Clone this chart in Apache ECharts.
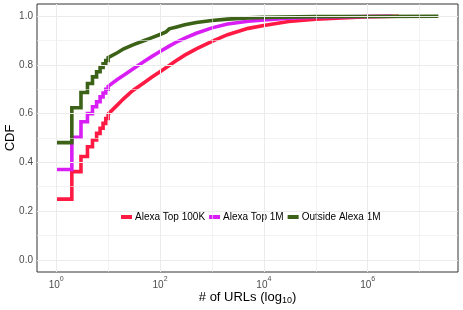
<!DOCTYPE html>
<html>
<head>
<meta charset="utf-8">
<script src="https://cdn.jsdelivr.net/npm/echarts@6/dist/echarts.min.js"></script>
<style>html,body{margin:0;padding:0;background:#fff}#c{width:463px;height:310px}</style>
</head>
<body>
<div id="c"></div>
<script>
// ---- data (counts in raw units, CDF values) ----
const seriesNames = ['Alexa Top 100K', 'Alexa Top 1M', 'Outside Alexa 1M'];
const stepCounts = [1, 2, 3, 4, 5, 6, 7, 8, 9, 10];
const top100kStep = [0.249, 0.362, 0.424, 0.464, 0.492, 0.519, 0.540, 0.560, 0.580, 0.598];
const top1mStep = [0.371, 0.503, 0.567, 0.600, 0.628, 0.649, 0.669, 0.685, 0.700, 0.712];
const outsideStep = [0.481, 0.624, 0.687, 0.724, 0.751, 0.772, 0.790, 0.805, 0.818, 0.830];

const top100kTailCounts = [15, 20, 30, 50, 70, 100, 150, 200, 300, 500, 1000, 2000, 5000, 10000, 30000, 100000, 1000000, 4000000];
const top100kTail = [0.635, 0.662, 0.695, 0.728, 0.750, 0.772, 0.798, 0.816, 0.840, 0.866, 0.897, 0.924, 0.950, 0.962, 0.978, 0.988, 0.998, 1.0];
const top1mTailCounts = [15, 20, 30, 50, 70, 100, 150, 200, 300, 500, 1000, 2000, 5000, 10000, 30000, 100000, 1000000, 3000000];
const top1mTail = [0.740, 0.758, 0.783, 0.815, 0.835, 0.855, 0.877, 0.892, 0.910, 0.930, 0.952, 0.968, 0.979, 0.985, 0.992, 0.996, 0.999, 1.0];
const outsideTailCounts = [15, 20, 30, 50, 70, 100, 130, 150, 200, 300, 500, 1000, 2000, 5000, 10000, 100000, 1000000, 23000000];
const outsideTail = [0.850, 0.866, 0.882, 0.900, 0.912, 0.925, 0.935, 0.948, 0.955, 0.965, 0.974, 0.982, 0.988, 0.993, 0.995, 0.998, 0.999, 1.0];

const xTickExps = [0, 2, 4, 6];
const xGridExps = [0, 1, 2, 3, 4, 5, 6, 7];
const yTicks = [0.0, 0.2, 0.4, 0.6, 0.8, 1.0];
const yGrid = [0.0, 0.1, 0.2, 0.3, 0.4, 0.5, 0.6, 0.7, 0.8, 0.9, 1.0];

const colors = ['#ff1a44', '#d91ef5', '#3b6216'];

function buildCdf(sc, sv, tc, tv) {
  const pts = [];
  for (let i = 0; i < sc.length; i++) {
    const lx = Math.log10(sc[i]);
    if (i > 0) pts.push([lx, sv[i - 1]]);
    pts.push([lx, sv[i]]);
  }
  for (let i = 0; i < tc.length; i++) pts.push([Math.log10(tc[i]), tv[i]]);
  return pts;
}
const cdfData = [
  buildCdf(stepCounts, top100kStep, top100kTailCounts, top100kTail),
  buildCdf(stepCounts, top1mStep, top1mTailCounts, top1mTail),
  buildCdf(stepCounts, outsideStep, outsideTailCounts, outsideTail)
];

const FONT = 'Liberation Sans, Arial, sans-serif';
const chart = echarts.init(document.getElementById('c'), null, {renderer: 'canvas'});

const gridMarks = [];
xGridExps.forEach(v => gridMarks.push({xAxis: v, lineStyle: {color: '#ebebeb', width: v % 2 === 0 ? 1 : 0.6, type: 'solid'}}));
yGrid.forEach((v, i) => gridMarks.push({yAxis: v, lineStyle: {color: '#ebebeb', width: i % 2 === 0 ? 1 : 0.6, type: 'solid'}}));

const series = [{
  type: 'line', name: '_grid', data: [], z: 0, silent: true,
  markLine: {silent: true, symbol: 'none', label: {show: false}, animation: false, data: gridMarks}
}];
seriesNames.forEach((n, i) => series.push({
  type: 'line', name: n, data: cdfData[i], showSymbol: false, symbol: 'none',
  lineStyle: {color: colors[i], width: 3.6, cap: 'butt', join: 'miter'},
  itemStyle: {color: colors[i]}, z: 2 + i, animation: false
}));

chart.setOption({
  animation: false,
  textStyle: {fontFamily: FONT},
  grid: {left: 37, right: 5, top: 4, bottom: 38, containLabel: false, outerBoundsMode: 'none',
         show: true, borderColor: '#333', borderWidth: 1, backgroundColor: '#fff'},
  xAxis: {
    type: 'value', min: -0.37, max: 7.74,
    axisLine: {show: false},
    splitLine: {show: false},
    axisTick: {show: true, length: 3, lineStyle: {color: '#333'}, customValues: xTickExps},
    axisLabel: {
      customValues: xTickExps, margin: 4, color: '#4d4d4d',
      formatter: v => '{b|10}{s|' + v + '}',
      rich: {
        b: {fontSize: 10, lineHeight: 14, verticalAlign: 'bottom', color: '#4d4d4d', fontFamily: FONT},
        s: {fontSize: 7, lineHeight: 8, verticalAlign: 'top', color: '#4d4d4d', fontFamily: FONT}
      }
    },
    name: '{m|# of URLs (log}{u|10}{m|)}', nameLocation: 'middle', nameGap: 18.5, nameMoveOverlap: false,
    nameTextStyle: {
      verticalAlign: 'top',
      rich: {
        m: {fontSize: 13, lineHeight: 15, verticalAlign: 'top', color: '#000', fontFamily: FONT},
        u: {fontSize: 9, lineHeight: 9, verticalAlign: 'bottom', color: '#000', fontFamily: FONT}
      }
    }
  },
  yAxis: {
    type: 'value', min: -0.05, max: 1.05,
    axisLine: {show: false},
    splitLine: {show: false},
    axisTick: {show: true, length: 3, lineStyle: {color: '#333'}, customValues: yTicks},
    axisLabel: {customValues: yTicks, margin: 4, fontSize: 10, color: '#4d4d4d', fontFamily: FONT, formatter: v => v.toFixed(1)},
    name: 'CDF', nameLocation: 'middle', nameRotate: 90, nameGap: 20, nameMoveOverlap: false,
    nameTextStyle: {fontSize: 13, color: '#000', fontFamily: FONT}
  },
  legend: {
    data: seriesNames, left: 116, top: 207, orient: 'horizontal',
    backgroundColor: '#fff', padding: [5, 5], itemGap: 4,
    icon: 'rect', itemWidth: 11, itemHeight: 4,
    textStyle: {fontSize: 10, color: '#000', fontFamily: FONT, padding: [0, 0, 0, -2]},
    selectedMode: false
  },
  series: series
});
</script>
</body>
</html>
